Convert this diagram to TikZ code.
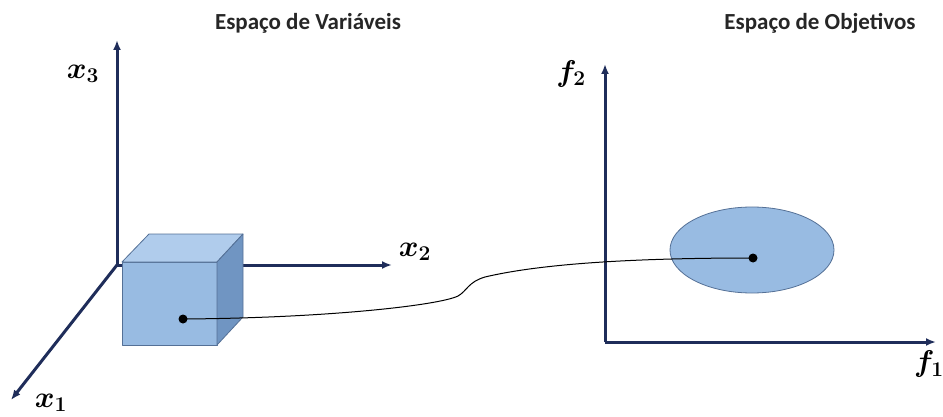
\RequirePackage{fix-cm}
\documentclass[tikz,border=0pt]{standalone}
\usepackage{fontspec}
\setmainfont{Carlito}
\usepackage{tikz}
\usetikzlibrary{shapes.geometric, arrows.meta, positioning}

\definecolor{axisblue}{RGB}{31,45,90}
\definecolor{frontblue}{RGB}{152,187,226}
\definecolor{topblue}{RGB}{176,204,236}
\definecolor{sideblue}{RGB}{112,149,194}
\definecolor{edgeblue}{RGB}{84,112,150}

\begin{document}
\begin{tikzpicture}[
		x=1pt, y=-1pt,
		% Define styles
		axis/.style={line width=3pt, draw=axisblue, -{Latex[length=10pt,width=8pt]}},
		face/.style={draw=edgeblue, line width=0.8pt, line join=round},
		title/.style={font=\fontsize{23}{26}\selectfont\bfseries, text=black!85},
		axislabel/.style={font=\fontsize{30}{32}\selectfont\boldmath, inner sep=1pt},
		dot/.style={circle, fill=black, inner sep=0pt, minimum size=9pt},
		region/.style={ellipse, draw=edgeblue, line width=0.8pt, fill=frontblue, minimum width=164pt, minimum height=86pt},
		link/.style={line width=1pt, black}
		]
		
		\useasboundingbox (0,0) rectangle (943,417);
		
		% Variable space axes
		\coordinate (ov) at (117,265);
		\coordinate (x3end) at (117,40);
		\coordinate (x2end) at (392,265);
		\coordinate (x1end) at (11,400);
		\draw [axis] (ov) -- (x3end);
		\draw [axis] (ov) -- (x2end);
		\draw [axis] (ov) -- (x1end);
		
		\node (x3) [axislabel] at (83,74) {$x_3$};
		\node (x2) [axislabel] at (415,252) {$x_2$};
		\node (x1) [axislabel] at (51,403) {$x_1$};
		\node (tvar) [title] at (308,23) {Espaço de Variáveis};
		
		% Cube
		\filldraw [face, fill=frontblue] (122,262) rectangle (217,345);
		\filldraw [face, fill=topblue] (122,262) -- (149,234) -- (243,234) -- (217,262) -- cycle;
		\filldraw [face, fill=sideblue] (217,262) -- (243,234) -- (243,317) -- (217,345) -- cycle;
		\node (pv) [dot] at (183,319) {};
		
		% Objective space axes
		\coordinate (of) at (605,342);
		\coordinate (f2end) at (605,64);
		\coordinate (f1end) at (936,342);
		\draw [axis] (of) -- (f2end);
		\draw [axis] (of) -- (f1end);
		
		\node (f2) [axislabel] at (571,74) {$f_2$};
		\node (f1) [axislabel, anchor=west] at (913,364) {$f_1$};
		\node (tobj) [title] at (820,23) {Espaço de Objetivos};
		
		% Image region
		\node (image) [region] at (752,250) {};
		\node (pf) [dot] at (753,258) {};
		
		% Mapping
		\draw [link] (pv.center) .. controls (330,318) and (440,305) .. (458,296)
			.. controls (467,291) and (468,282) .. (485,277)
			.. controls (540,264) and (630,258) .. (pf.center);
		
	\end{tikzpicture}
\end{document}
